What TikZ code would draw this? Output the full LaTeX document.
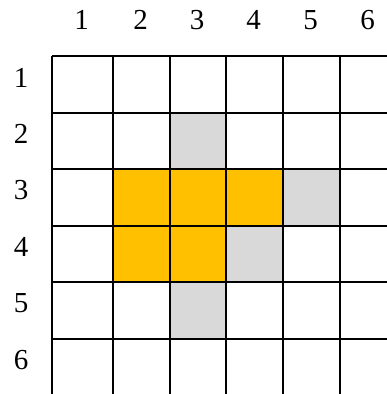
\documentclass[tikz,border=0pt]{standalone}
\usepackage{fontspec}
\setmainfont{Liberation Serif}
\definecolor{hot}{HTML}{FFC000}
\definecolor{near}{HTML}{D9D9D9}
\begin{document}
\begin{tikzpicture}[x=1pt,y=-1pt,
  cellbox/.style={inner sep=0pt,outer sep=0pt,anchor=north west},
  gridline/.style={draw=black,line width=1.9pt},
  lab/.style={font=\fontsize{29}{32}\selectfont,inner sep=0pt}]
\useasboundingbox (0,0) rectangle (387,394);
\clip (0,0) rectangle (387,394);
% cells
\foreach \r/\yt/\yb in {1/56/113,2/113/169,3/169/226,4/226/282,5/282/339,6/339/396}{
  \foreach \c/\xl/\xr in {1/52/113,2/113/170,3/170/226,4/226/283,5/283/340,6/340/397}{
    \node[cellbox,minimum width={(\xr-\xl)*1pt},minimum height={(\yb-\yt)*1pt}] (c\r\c) at (\xl,\yt) {};
  }
}
\foreach \n in {c32,c33,c34,c42,c43}{\fill[hot] (\n.north west) rectangle (\n.south east);}
\foreach \n in {c23,c35,c44,c53}{\fill[near] (\n.north west) rectangle (\n.south east);}
% grid lines
\foreach \y in {56,113,169,226,282,339}{\draw[gridline] (52,\y) -- (400,\y);}
\foreach \x in {52,113,170,226,283,340}{\draw[gridline] (\x,56) -- (\x,400);}
% column labels
\foreach \c/\x in {1/81.5,2/140.5,3/197,4/253.5,5/310.5,6/367.5}{\node[lab] (col\c) at (\x,20) {\c};}
% row labels
\foreach \r/\y in {1/84.5,2/141,3/197.5,4/254,5/310.5,6/367.5}{\node[lab] (row\r) at (21,\y-7) {\r};}
\end{tikzpicture}
\end{document}
